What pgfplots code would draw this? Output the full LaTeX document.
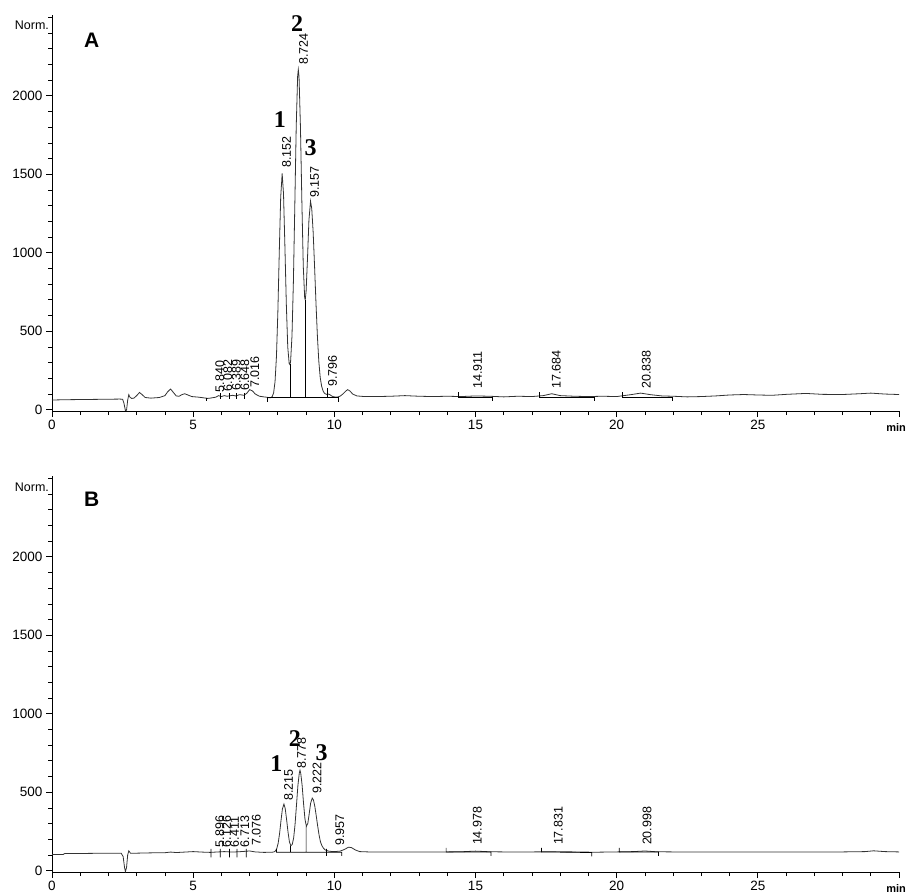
\documentclass[border=0pt]{standalone}
\usepackage{fontspec}
\setmainfont{Liberation Sans}
\newfontfamily\serifbold{Liberation Serif}
\usepackage{pgfplots}
\pgfplotsset{compat=1.18}
\definecolor{trace}{HTML}{333333}
\newcommand{\rt}[3]{\node[rotate=90,anchor=west,inner sep=0pt,font=\fontsize{12.5}{12.5}\selectfont] at (axis cs:#1,#2) {#3};}
\newcommand{\pk}[3]{\node[inner sep=0pt,font=\fontsize{24}{24}\selectfont\serifbold\bfseries] at (axis cs:#1,#2) {#3};}
\newcommand{\minlabel}{\node[anchor=north east,inner sep=0pt,font=\fontsize{11}{11}\selectfont\bfseries] at ([xshift=7pt,yshift=-12pt]axis cs:30,-8) {min};}
\pgfplotsset{chrom/.style={
  scale only axis, width=847pt, height=396pt,
  xmin=0, xmax=30, ymin=-8, ymax=2515,
  axis lines=left, axis line style={-, line width=0.9pt},
  xtick={0,5,...,30}, xticklabels={0,5,10,15,20,25,{}},
  minor xtick={1,...,29},
  ytick={0,500,...,2000}, minor ytick={100,200,...,2500},
  tick align=outside, major tick length=6pt, minor tick length=4pt,
  every tick/.style={black, line width=0.8pt},
  ticklabel style={font=\fontsize{13.5}{13.5}\selectfont},
  /pgf/number format/assume math mode=true,
  /pgf/number format/1000 sep={},
  clip=false, unbounded coords=jump,
}}
\begin{document}
\begin{tikzpicture}
\path[use as bounding box] (0,0) rectangle (907pt,-893pt);
% ---------------- Panel A ----------------
\begin{axis}[chrom, at={(52pt,-411pt)}, anchor=south west]
\addplot[trace, line width=0.8pt] coordinates {
(0,62) (0.5,64) (1,65) (1.5,66) (2,67) (2.4,68) (2.5,67) (2.55,40) (2.6,-5) (2.64,-3) (2.68,60) (2.72,96) (2.76,80) (2.82,72) (2.9,74) (3.0,90) (3.1,110) (3.2,95) (3.3,78) (3.5,74) (3.8,78) (4.0,90) (4.1,115) (4.2,132) (4.3,110) (4.4,88) (4.5,86) (4.6,96) (4.7,102) (4.8,95) (4.95,84) (5.2,80) (5.45,74) (5.5,72) (5.6,74) (5.8,80) (5.9,90) (6.0,84) (6.1,90) (6.2,86) (6.4,92) (6.5,88) (6.65,96) (6.8,92) (6.9,105) (7.0,128) (7.1,120) (7.2,100) (7.35,86) (7.5,82) (7.6,80) (7.65,78) (7.7,76) (7.75,77) (7.8,84) (7.85,108) (7.9,179) (7.95,340) (8.0,625) (8.05,1005) (8.1,1354) (8.152,1505) (8.2,1375) (8.25,1036) (8.3,670) (8.35,400) (8.4,295) (8.425,288) (8.45,305) (8.5,470) (8.55,815) (8.6,1300) (8.65,1803) (8.7,2124) (8.724,2167) (8.75,2121) (8.8,1800) (8.85,1327) (8.9,914) (8.95,712) (8.97,700) (9.0,754) (9.05,967) (9.1,1207) (9.157,1329) (9.2,1281) (9.25,1131) (9.3,913) (9.35,679) (9.4,470) (9.45,309) (9.5,205) (9.55,150) (9.6,120) (9.65,105) (9.7,100) (9.75,97) (9.8,100) (9.85,95) (9.9,88) (9.95,84) (10.0,82) (10.1,80) (10.2,86) (10.3,100) (10.4,118) (10.47,128) (10.55,120) (10.65,100) (10.8,88) (11.0,85) (11.5,84) (12.0,86) (12.5,90) (13.0,86) (13.5,84) (14.0,86) (14.5,84) (15.0,88) (15.5,86) (16.0,82) (16.5,86) (17.0,84) (17.4,90) (17.7,102) (18.0,90) (18.5,86) (19.0,84) (19.5,86) (20.0,84) (20.5,96) (20.85,106) (21.2,96) (21.6,88) (22.0,86) (22.5,82) (23.0,84) (23.5,88) (24.0,94) (24.5,97) (25.0,94) (25.5,92) (26.0,98) (26.7,104) (27.3,98) (28.0,97) (28.6,102) (29.0,106) (29.5,100) (30.0,97)
};
\addplot[black, line width=0.7pt] coordinates {
(7.62,50) (7.62,78) (10.13,78) (10.13,50) (10.13,nan)
(8.43,78) (8.43,290) (8.43,nan)
(8.97,78) (8.97,700) (8.97,nan)
(9.74,78) (9.74,140) (9.74,nan)
(5.47,78) (5.47,55) (5.47,nan)
(5.97,70) (5.97,108) (5.97,nan)
(6.27,70) (6.27,105) (6.27,nan)
(6.53,70) (6.53,105) (6.53,nan)
(6.8,70) (6.8,105) (6.8,nan)
(14.41,113) (14.41,81) (15.61,81) (15.61,55) (15.61,nan)
(17.26,113) (17.26,81) (19.21,81) (19.21,55) (19.21,nan)
(20.19,113) (20.19,81) (21.96,81) (21.96,55)
};
\node[anchor=east,inner sep=0pt,font=\fontsize{12.5}{12.5}\selectfont] at (axis cs:-0.1,2452) {Norm.};
\node[inner sep=0pt,font=\fontsize{21}{21}\selectfont\bfseries] at (axis cs:1.41,2357) {A};
\minlabel
\rt{8.31}{1541}{8.152}
\rt{8.91}{2197}{8.724}
\rt{9.30}{1350}{9.157}
\rt{9.94}{146}{9.796}
\rt{15.07}{132}{14.911}
\rt{17.86}{132}{17.684}
\rt{21.05}{132}{20.838}
\rt{5.94}{110}{5.840}
\rt{6.23}{118}{6.082}
\rt{6.53}{120}{6.389}
\rt{6.83}{120}{6.648}
\rt{7.18}{140}{7.016}
\pk{8.07}{1847}{1}
\pk{8.68}{2462}{2}
\pk{9.16}{1669}{3}
\end{axis}
% ---------------- Panel B ----------------
\begin{axis}[chrom, at={(52pt,-872pt)}, anchor=south west]
\addplot[trace, line width=0.8pt] coordinates {
(0,104) (0.4,104) (0.45,110) (1.0,110) (1.5,111) (2.0,112) (2.45,112) (2.52,90) (2.57,20) (2.6,-5) (2.64,20) (2.68,100) (2.72,127) (2.78,112) (3.0,112) (3.5,114) (4.0,115) (4.2,119) (4.4,116) (4.8,120) (5.0,122) (5.3,119) (5.6,117) (5.9,120) (6.1,122) (6.4,119) (6.7,122) (7.0,126) (7.2,120) (7.5,117) (7.8,118) (7.86,120) (7.91,125) (7.96,140) (8.01,175) (8.06,236) (8.11,318) (8.16,393) (8.215,425) (8.26,397) (8.31,325) (8.36,246) (8.41,183) (8.46,160) (8.51,168) (8.56,210) (8.61,298) (8.66,420) (8.71,544) (8.76,623) (8.784,640) (8.81,622) (8.86,543) (8.91,428) (8.96,329) (9.01,283) (9.06,301) (9.11,363) (9.16,430) (9.217,463) (9.26,451) (9.31,409) (9.36,349) (9.41,285) (9.46,227) (9.51,183) (9.56,160) (9.61,145) (9.66,135) (9.71,130) (9.8,125) (9.9,123) (10.0,122) (10.2,125) (10.35,135) (10.5,150) (10.6,148) (10.75,132) (10.9,122) (11.2,120) (12,119) (13,120) (14,120) (14.5,121) (15.0,125) (15.5,121) (16,120) (17,120) (17.8,121) (18.5,120) (19.2,118) (20,120) (20.6,122) (21.0,126) (21.4,121) (22,120) (24,120) (26,120) (28,120) (28.8,122) (29.1,127) (29.5,122) (30,120)
};
\addplot[black, line width=0.7pt] coordinates {
(7.95,140) (7.95,118) (10.26,118) (10.26,95) (10.26,nan)
(8.45,118) (8.45,160) (8.45,nan)
(9.0,118) (9.0,283) (9.0,nan)
(9.72,95) (9.72,140) (9.72,nan)
(5.63,85) (5.63,140) (5.63,nan)
(5.96,85) (5.96,140) (5.96,nan)
(6.29,85) (6.29,140) (6.29,nan)
(6.55,85) (6.55,140) (6.55,nan)
(6.88,85) (6.88,140) (6.88,nan)
(13.96,145) (13.96,120) (15.55,120) (15.55,95) (15.55,nan)
(17.34,145) (17.34,120) (19.12,116) (19.12,92) (19.12,nan)
(20.09,145) (20.09,120) (21.48,120) (21.48,95)
};
\node[anchor=east,inner sep=0pt,font=\fontsize{12.5}{12.5}\selectfont] at (axis cs:-0.1,2444) {Norm.};
\node[inner sep=0pt,font=\fontsize{21}{21}\selectfont\bfseries] at (axis cs:1.41,2368) {B};
\minlabel
\rt{8.38}{444}{8.215}
\rt{8.84}{650}{8.778}
\rt{9.39}{489}{9.222}
\rt{10.19}{159}{9.957}
\rt{15.06}{163}{14.978}
\rt{17.93}{163}{17.831}
\rt{21.08}{163}{20.998}
\rt{5.94}{150}{5.896}
\rt{6.18}{150}{6.126}
\rt{6.47}{150}{6.411}
\rt{6.83}{150}{6.713}
\rt{7.24}{160}{7.076}
\pk{7.95}{683}{1}
\pk{8.6}{840}{2}
\pk{9.55}{750}{3}
\end{axis}
\end{tikzpicture}
\end{document}
